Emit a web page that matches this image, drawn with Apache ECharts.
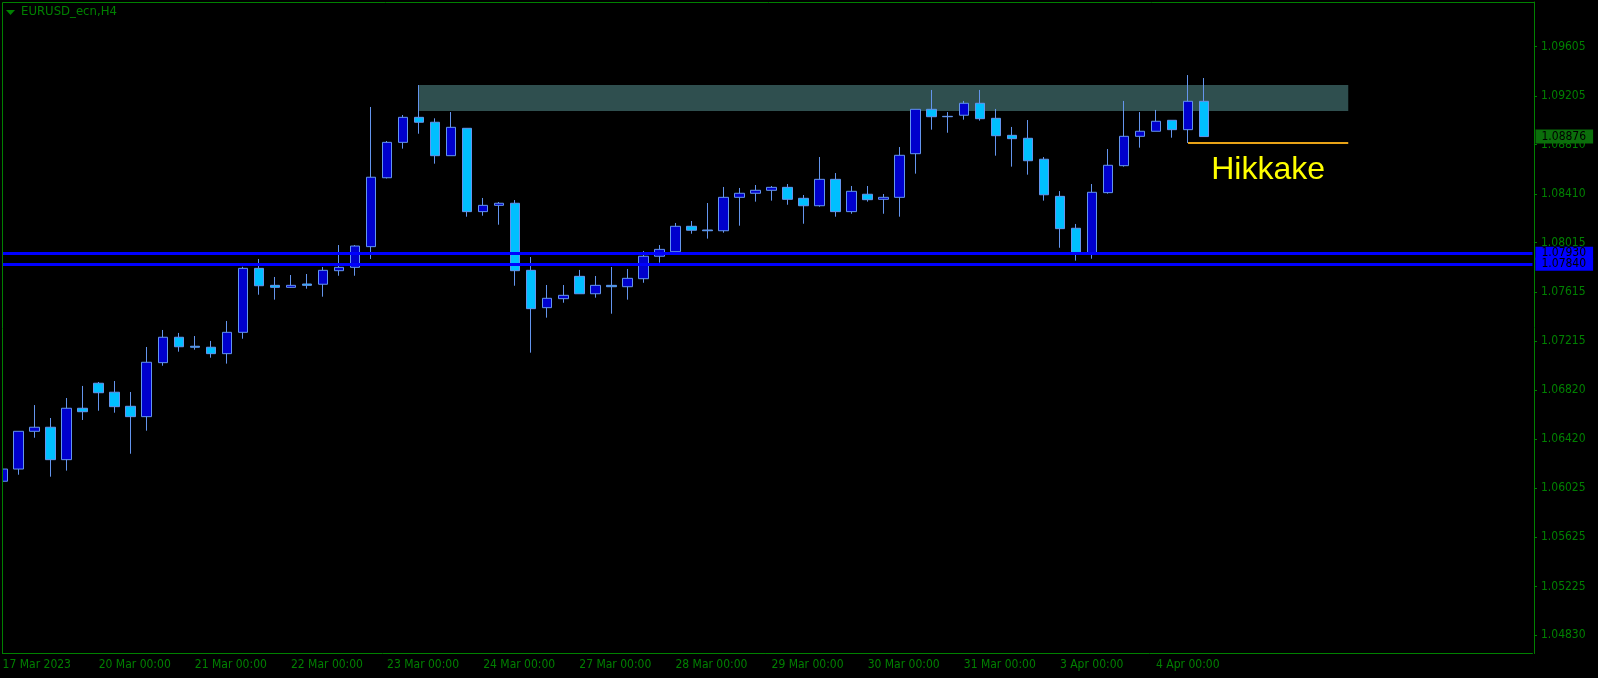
<!DOCTYPE html>
<html><head><meta charset="utf-8">
<script src="https://cdn.jsdelivr.net/npm/echarts@6/dist/echarts.min.js"></script>
<style>html,body{margin:0;padding:0;background:#000;overflow:hidden}#c{width:1598px;height:678px;}</style>
</head><body><div id="c"></div>
<script>
// ---------- data ----------
const days = ['17 Mar','20 Mar','21 Mar','22 Mar','23 Mar','24 Mar','27 Mar','28 Mar','29 Mar','30 Mar','31 Mar','3 Apr','4 Apr','5 Apr','6 Apr','7 Apr'];
const hours = ['00:00','04:00','08:00','12:00','16:00','20:00'];
const xTickLabels = ['17 Mar 2023','20 Mar 00:00','21 Mar 00:00','22 Mar 00:00','23 Mar 00:00','24 Mar 00:00','27 Mar 00:00','28 Mar 00:00','29 Mar 00:00','30 Mar 00:00','31 Mar 00:00','3 Apr 00:00','4 Apr 00:00'];
const yTickValues = [1.09605,1.09205,1.08810,1.08410,1.08015,1.07615,1.07215,1.06820,1.06420,1.06025,1.05625,1.05225,1.04830];

const opens = [1.06080,1.06179,1.06485,1.06518,1.06255,1.06672,1.06875,1.06802,1.06688,1.06604,
1.07042,1.07248,1.07175,1.07167,1.07115,1.07288,1.07807,1.07669,1.07653,1.07680,
1.07678,1.07788,1.07815,1.07983,1.08542,1.08829,1.09032,1.08992,1.08721,1.08943,
1.08267,1.08318,1.08335,1.07791,1.07488,1.07561,1.07742,1.07601,1.07669,1.07658,
1.07723,1.07905,1.07942,1.08148,1.08118,1.08112,1.08383,1.08416,1.08440,1.08464,
1.08375,1.08315,1.08529,1.08267,1.08408,1.08367,1.08383,1.08737,1.09097,1.09040,
1.09049,1.09146,1.09024,1.08886,1.08862,1.08692,1.08391,1.08132,1.07929,1.08421,
1.08640,1.08878,1.08919,1.09008,1.08932,1.09162];
const closes = [1.06179,1.06485,1.06518,1.06255,1.06672,1.06644,1.06798,1.06685,1.06604,1.07045,
1.07248,1.07171,1.07167,1.07115,1.07288,1.07807,1.07666,1.07653,1.07669,1.07669,
1.07791,1.07815,1.07988,1.08546,1.08829,1.09032,1.08992,1.08721,1.08951,1.08267,
1.08318,1.08335,1.07788,1.07480,1.07564,1.07588,1.07601,1.07669,1.07658,1.07726,
1.07905,1.07961,1.08148,1.08116,1.08112,1.08383,1.08416,1.08440,1.08464,1.08367,
1.08315,1.08529,1.08267,1.08432,1.08364,1.08383,1.08724,1.09097,1.09037,1.09037,
1.09146,1.09021,1.08883,1.08859,1.08680,1.08404,1.08129,1.07929,1.08424,1.08643,
1.08878,1.08919,1.09000,1.08932,1.09162,1.08876];
const highs = [1.06201,1.06485,1.06698,1.06593,1.06755,1.06853,1.06885,1.06893,1.06804,1.07169,
1.07307,1.07283,1.07258,1.07218,1.07380,1.07820,1.07883,1.07737,1.07753,1.07761,
1.07818,1.07996,1.07996,1.09116,1.08840,1.09051,1.09294,1.09024,1.09075,1.08943,
1.08378,1.08345,1.08361,1.07899,1.07672,1.07672,1.07794,1.07745,1.07818,1.07802,
1.07948,1.07996,1.08175,1.08191,1.08337,1.08467,1.08459,1.08483,1.08475,1.08491,
1.08402,1.08710,1.08580,1.08475,1.08475,1.08410,1.08791,1.09097,1.09254,1.09075,
1.09165,1.09254,1.09100,1.08954,1.09010,1.08710,1.08434,1.08167,1.08491,1.08775,
1.09165,1.09075,1.09092,1.09008,1.09375,1.09351];
const lows = [1.06044,1.06133,1.06433,1.06117,1.06166,1.06577,1.06652,1.06636,1.06303,1.06490,
1.07017,1.07131,1.07147,1.07082,1.07034,1.07236,1.07593,1.07553,1.07650,1.07642,
1.07577,1.07747,1.07747,1.07883,1.08536,1.08778,1.08899,1.08656,1.08721,1.08226,
1.08234,1.08161,1.07666,1.07123,1.07407,1.07528,1.07601,1.07569,1.07439,1.07553,
1.07690,1.07853,1.07942,1.08088,1.08048,1.08096,1.08153,1.08348,1.08356,1.08323,
1.08169,1.08307,1.08226,1.08250,1.08348,1.08250,1.08226,1.08575,1.08932,1.08907,
1.09013,1.09005,1.08721,1.08632,1.08567,1.08356,1.07974,1.07869,1.07885,1.08413,
1.08632,1.08786,1.08919,1.08867,1.08824,1.08876];

const levelLines = [1.07930, 1.07840];
const lastPrice = 1.08876;
const zoneTop = 1.09294, zoneBottom = 1.09083, zoneStart = 26, zoneEnd = 84;
const hikkakeLevel = 1.08824, hikkakeStart = 74, hikkakeEnd = 84;
const hikkakeLabel = 'Hikkake', hikkakeLabelAt = [79, 1.08605];
const yMin = 1.046826, yMax = 1.099676;

// ---------- build ----------
const categories = [];
days.forEach(d => hours.forEach(h => categories.push(d + ' ' + h)));
const candles = opens.map((o, i) => [o, closes[i], lows[i], highs[i]]);

const FONT = '"DejaVu Sans Condensed","Liberation Sans Narrow","DejaVu Sans",sans-serif';
const GREEN = '#008000';
const BAND = 16.02;
const GL = -5.45;

const levelLabel = (bg, pad) => ({show: true, position: 'end', distance: 3, formatter: p => Number(p.value).toFixed(5),
  backgroundColor: bg, color: '#000', fontSize: 12, fontFamily: FONT, padding: pad, lineHeight: 12});

const chart = echarts.init(document.getElementById('c'), null, {renderer: 'canvas'});
chart.setOption({
  animation: false,
  backgroundColor: '#000',
  title: {
    text: 'EURUSD_ecn,H4', left: 21, top: 5, padding: 0,
    textStyle: {color: GREEN, fontSize: 13, fontWeight: 'normal', fontFamily: FONT}
  },
  grid: {left: GL, top: 2, width: BAND * categories.length, height: 651.5, show: false,
         containLabel: false, outerBoundsMode: 'none'},
  xAxis: {
    type: 'category', data: categories, boundaryGap: true,
    axisLine: {lineStyle: {color: GREEN, width: 1}},
    axisTick: {alignWithLabel: true, length: 3, lineStyle: {color: GREEN},
      interval: (i) => i % 6 === 0 && i / 6 < xTickLabels.length},
    axisLabel: {
      color: GREEN, fontSize: 12, fontFamily: FONT, align: 'left', margin: 5,
      interval: (i) => i % 6 === 0 && i / 6 < xTickLabels.length,
      formatter: (v, i) => xTickLabels[i / 6] || ''
    },
    splitLine: {show: false}
  },
  yAxis: {
    type: 'value', position: 'right', min: yMin, max: yMax, offset: 1.5, scale: true,
    axisLine: {show: true, lineStyle: {color: GREEN, width: 1}},
    axisTick: {show: true, length: 3, inside: false, lineStyle: {color: GREEN}, customValues: yTickValues},
    axisLabel: {color: GREEN, fontSize: 12, fontFamily: FONT, margin: 7,
      customValues: yTickValues, formatter: v => v.toFixed(5)},
    splitLine: {show: false}
  },
  series: [{
    type: 'candlestick',
    data: candles,
    barWidth: 10,
    itemStyle: {color: '#0000CD', color0: '#00BFFF', borderColor: '#6495ED', borderColor0: '#6495ED', borderWidth: 1},
    markArea: {
      silent: true,
      itemStyle: {color: '#2F4F4F', opacity: 1},
      data: [[{coord: [zoneStart, zoneTop]}, {coord: [zoneEnd, zoneBottom]}]]
    },
    markLine: {
      silent: true, symbol: ['none', 'none'], animation: false, precision: 5,
      data: [
        {yAxis: levelLines[0], lineStyle: {color: '#0000FF', width: 3, type: 'solid'}, label: levelLabel('#0000FF', [1, 7, 0, 6])},
        {yAxis: levelLines[1], lineStyle: {color: '#0000FF', width: 3, type: 'solid'}, label: levelLabel('#0000FF', [1, 7, 0, 6])},
        {yAxis: lastPrice, lineStyle: {color: 'rgba(0,0,0,0)', width: 0}, label: levelLabel('#0B6E0B', [1, 7, 1, 6])},
        [{coord: [hikkakeStart, hikkakeLevel], lineStyle: {color: '#E8A317', width: 2, type: 'solid'}, label: {show: false}},
         {coord: [hikkakeEnd, hikkakeLevel]}]
      ]
    },
    markPoint: {
      silent: true, symbol: 'circle', symbolSize: 1, itemStyle: {color: 'rgba(0,0,0,0)'},
      data: [{coord: hikkakeLabelAt, value: hikkakeLabel,
        label: {show: true, position: 'inside', formatter: hikkakeLabel, color: '#FFFF00', fontSize: 32,
                fontFamily: '"Liberation Sans", Arial, sans-serif'}}]
    }
  }],
  graphic: [
    {type: 'rect', left: 0, top: 0, shape: {x: 0, y: 0, width: 2, height: 660}, style: {fill: '#000'}, z: 100, silent: true},
    {type: 'line', shape: {x1: 2.5, y1: 2.5, x2: 1534.5, y2: 2.5}, style: {stroke: GREEN, lineWidth: 1}, z: 101, silent: true},
    {type: 'line', shape: {x1: 2.5, y1: 2.5, x2: 2.5, y2: 654}, style: {stroke: GREEN, lineWidth: 1}, z: 101, silent: true},
    {type: 'polygon', shape: {points: [[6, 10], [15, 10], [10.5, 15]]}, style: {fill: GREEN}, z: 101, silent: true}
  ]
});
</script></body></html>
